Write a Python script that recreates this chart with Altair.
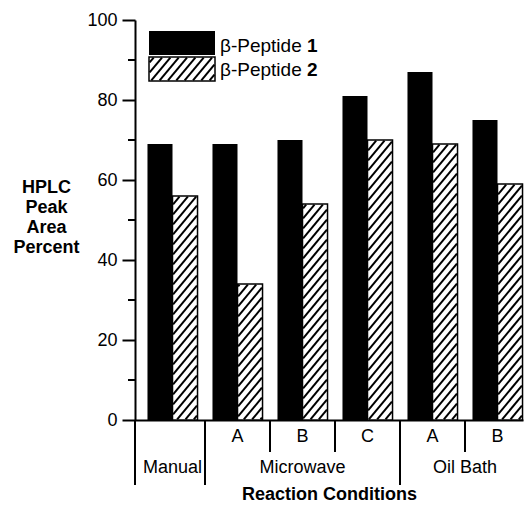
import altair as alt
import pandas as pd
import numpy as np

# ---- data ----
groups = ["Manual", "Microwave", "Microwave", "Microwave", "Oil Bath", "Oil Bath"]
subs = ["", "A", "B", "C", "A", "B"]
pep1 = [69, 69, 70, 81, 87, 75]
pep2 = [56, 34, 54, 70, 69, 59]
series_names = ["β-Peptide", "β-Peptide"]
series_nums = ["1", "2"]
y_ticks = [0, 20, 40, 60, 80, 100]
y_minor = [10, 30, 50, 70, 90]

# ---- layout constants ----
W, H = 388, 400
GROUP_PX = 65.0
X_MIN = -0.577
X_MAX = X_MIN + W / GROUP_PX
PX_X = W / (X_MAX - X_MIN)
PX_Y = H / 100.0
BAR_W = 0.385
FONT = "Liberation Sans"
SLOPE, PERIOD = 1.2, 10.0

def hatch(x0, x1, y0, y1):
    """diagonal '/' hatch segments inside a data-space rectangle"""
    X0, X1 = (x0 - X_MIN) * PX_X, (x1 - X_MIN) * PX_X
    Y0, Y1 = y0 * PX_Y, y1 * PX_Y
    inset = 0.6
    X0, X1, Y0, Y1 = X0 + inset, X1 - inset, Y0 + inset, Y1 - inset
    segs = []
    nlo = int(np.floor((Y0 - SLOPE * X1) / PERIOD)) - 1
    nhi = int(np.ceil((Y1 - SLOPE * X0) / PERIOD)) + 1
    for n in range(nlo, nhi + 1):
        b = n * PERIOD
        lo = max(X0, (Y0 - b) / SLOPE)
        hi = min(X1, (Y1 - b) / SLOPE)
        if hi - lo > 0.5:
            segs.append({
                "x": lo / PX_X + X_MIN, "x2": hi / PX_X + X_MIN,
                "y": (SLOPE * lo + b) / PX_Y, "y2": (SLOPE * hi + b) / PX_Y,
            })
    return segs

idx = list(range(len(groups)))
black = pd.DataFrame({"x": [i - BAR_W for i in idx], "x2": idx, "y": pep1, "y2": 0})
white = pd.DataFrame({"x": idx, "x2": [i + BAR_W for i in idx], "y": pep2, "y2": 0})

# legend boxes (data coords)
lx0, lx1 = X_MIN + 14 / PX_X, X_MIN + 80 / PX_X
leg_black = pd.DataFrame({"x": [lx0], "x2": [lx1], "y": [100 - 11 / PX_Y], "y2": [100 - 35 / PX_Y]})
leg_white = pd.DataFrame({"x": [lx0], "x2": [lx1], "y": [100 - 37 / PX_Y], "y2": [100 - 61 / PX_Y]})

segs = []
for _, r in white.iterrows():
    segs += hatch(r["x"], r["x2"], 0, r["y"])
segs += hatch(lx0, lx1, leg_white["y2"][0], leg_white["y"][0])
hatch_df = pd.DataFrame(segs)

leg_text = pd.DataFrame({
    "x": [X_MIN + 85 / PX_X] * 2,
    "xb": [X_MIN + 168 / PX_X] * 2,
    "y": [100 - 32 / PX_Y, 100 - 56 / PX_Y],
    "name": series_names, "num": series_nums,
})

xs = alt.Scale(domain=[X_MIN, X_MAX], nice=False, zero=False)
ys = alt.Scale(domain=[0, 100], nice=False, zero=False)

x_axis = alt.Axis(
    labels=False, ticks=False, grid=False, domain=True, domainColor="black",
    domainWidth=2, title="Reaction Conditions", titleFont=FONT, titleFontSize=18,
    titleFontWeight="bold", titleColor="black", titlePadding=65)
y_axis = alt.Axis(
    values=y_ticks, tickSize=13, tickWidth=2, tickColor="black", domainWidth=2,
    domainColor="black", labelFont=FONT, labelFontSize=18, labelColor="black",
    labelPadding=5, grid=False,
    title=["HPLC", "Peak", "Area", "Percent"], titleAngle=0, titleAlign="center",
    titleBaseline="alphabetic", titleX=-89, titleY=172, titleLineHeight=20,
    titleFont=FONT, titleFontSize=18, titleFontWeight="bold", titleColor="black")

def X(f="x"):
    return alt.X(f + ":Q", scale=xs, axis=x_axis)

def Y(f="y"):
    return alt.Y(f + ":Q", scale=ys, axis=y_axis)

bars1 = alt.Chart(black).mark_bar(color="black").encode(
    x=X(), x2="x2:Q", y=Y(), y2="y2:Q")
bars2 = alt.Chart(white).mark_bar(fill="white", stroke="black", strokeWidth=1.5).encode(
    x=X(), x2="x2:Q", y=Y(), y2="y2:Q")
hatch_l = alt.Chart(hatch_df).mark_rule(color="black", strokeWidth=2).encode(
    x=X(), x2="x2:Q", y=Y(), y2="y2:Q")

# minor ticks
minor = alt.Chart(pd.DataFrame({"y": y_minor})).mark_rule(color="black", strokeWidth=2).encode(
    x=alt.value(-7), x2=alt.value(0), y=Y())

# category dividers below axis
div_x = [X_MIN, 0.5, 1.5, 2.5, 3.5, 4.5]
div_y = [-16.25, -16.25, -8, -8, -16.25, -8]
dividers = alt.Chart(pd.DataFrame({"x": div_x, "y": 0, "y2": div_y})).mark_rule(
    color="black", strokeWidth=2).encode(x=X(), y=Y(), y2="y2:Q")

sub_df = pd.DataFrame({"x": idx, "t": subs, "y": -4.25})
sub_l = alt.Chart(sub_df).mark_text(font=FONT, fontSize=18, color="black", baseline="middle").encode(
    x=X(), y=Y(), text="t:N")

gdf = pd.DataFrame({"g": groups, "x": idx}).groupby("g", sort=False)["x"].mean().reset_index()
gdf["y"] = -12
grp_l = alt.Chart(gdf).mark_text(font=FONT, fontSize=18, color="black", baseline="middle").encode(
    x=X(), y=Y(), text="g:N")

# legend
lb = alt.Chart(leg_black).mark_rect(color="black").encode(x=X(), x2="x2:Q", y=Y(), y2="y2:Q")
lw = alt.Chart(leg_white).mark_rect(fill="white", stroke="black", strokeWidth=1.5).encode(
    x=X(), x2="x2:Q", y=Y(), y2="y2:Q")
lt = alt.Chart(leg_text).mark_text(font=FONT, fontSize=19, color="black", align="left",
                                   baseline="alphabetic").encode(x=X(), y=Y(), text="name:N")
ln = alt.Chart(leg_text).mark_text(font=FONT, fontSize=19, color="black", align="left",
                                   baseline="alphabetic", fontWeight="bold", dx=4).encode(
    x=X("xb"), y=Y(), text="num:N")

chart = alt.layer(bars1, bars2, lb, lw, hatch_l, minor, dividers, sub_l, grp_l, lt, ln).properties(
    width=W, height=H, autosize="none",
    padding={"left": 127, "top": 12, "right": 1, "bottom": 82},
).configure_view(stroke=None)

chart.save("out.html", embed_options={"renderer": "svg", "actions": False})
